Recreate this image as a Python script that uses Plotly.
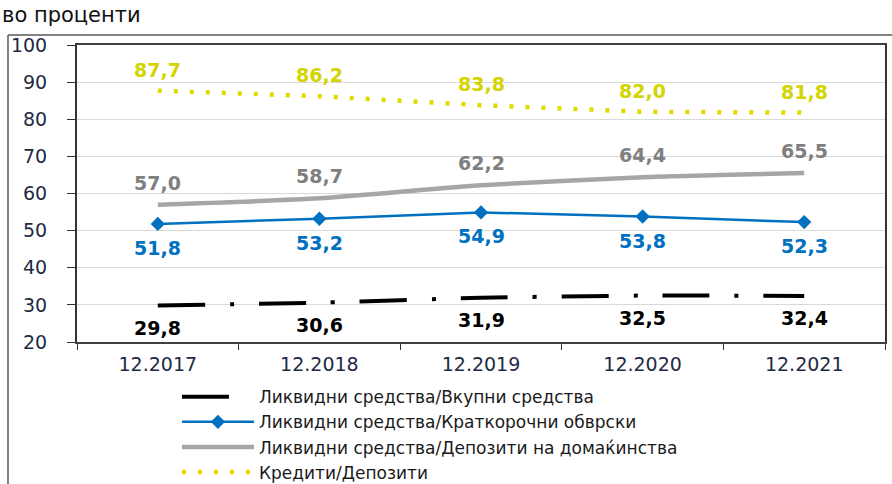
import plotly.graph_objects as go

categories = ["12.2017", "12.2018", "12.2019", "12.2020", "12.2021"]
liq_total = [29.8, 30.6, 31.9, 32.5, 32.4]
liq_short = [51.8, 53.2, 54.9, 53.8, 52.3]
liq_house = [57.0, 58.7, 62.2, 64.4, 65.5]
loans_dep = [87.7, 86.2, 83.8, 82.0, 81.8]
names = [
    "Ликвидни средства/Вкупни средства",
    "Ликвидни средства/Краткорочни обврски",
    "Ликвидни средства/Депозити на домаќинства",
    "Кредити/Депозити",
]
y_ticks = [20, 30, 40, 50, 60, 70, 80, 90, 100]

def fmt(v):
    return f"{v:.1f}".replace(".", ",")

fig = go.Figure()
fig.add_trace(go.Scatter(x=categories, y=liq_total, name=names[0], mode="lines",
                         line=dict(color="#000000", width=4, dash="47px,25px,4px,25px", shape="spline", smoothing=0.6)))
fig.add_trace(go.Scatter(x=categories, y=liq_short, name=names[1], mode="lines+markers",
                         line=dict(color="#0070C0", width=2.5),
                         marker=dict(symbol="diamond", size=11, color="#0070C0")))
fig.add_trace(go.Scatter(x=categories, y=liq_house, name=names[2], mode="lines",
                         line=dict(color="#A6A6A6", width=4.5, shape="spline", smoothing=0.6)))
fig.add_trace(go.Scatter(x=categories, y=loans_dep, name=names[3], mode="lines",
                         line=dict(color="#DCDC00", width=4.5, dash="4px,12px")))

annotations = []
series_lab = [
    (liq_total, "#000000", -22),
    (liq_short, "#0070C0", -24),
    (liq_house, "#7F7F7F", 22),
    (loans_dep, "#D4D400", 21),
]
for vals, col, ys in series_lab:
    for i, v in enumerate(vals):
        annotations.append(dict(x=i, y=v, xref="x", yref="y", text=fmt(v), showarrow=False,
                                yshift=ys, font=dict(family="DejaVu Sans", size=19, color=col, weight="bold")))

annotations.append(dict(x=-0.0953, y=1.053, xref="paper", yref="paper", xanchor="left", yanchor="bottom",
                        text="во проценти", showarrow=False,
                        font=dict(family="DejaVu Sans", size=21, color="#111111")))

shapes = [
    dict(type="line", xref="paper", yref="paper", x0=-0.0854, x1=1.01, y0=1.0337, y1=1.0337,
         line=dict(color="#595959", width=1.5)),
    dict(type="line", xref="paper", yref="paper", x0=-0.0854, x1=-0.0854, y0=1.0337, y1=-0.5,
         line=dict(color="#595959", width=1.5)),
]

fig.update_layout(
    width=892, height=484,
    margin=dict(l=77, r=7, t=45, b=142, autoexpand=False),
    paper_bgcolor="white", plot_bgcolor="white",
    showlegend=True,
    legend=dict(x=0.1237, y=-0.125, xanchor="left", yanchor="top", itemwidth=72,
                font=dict(family="DejaVu Sans", size=17, color="#1a1a1a"),
                tracegroupgap=0, bgcolor="rgba(0,0,0,0)"),
    annotations=annotations,
    shapes=shapes,
)
fig.update_xaxes(type="category", range=[-0.5, 4.5], tickson="boundaries", ticks="outside", ticklen=6,
                 tickcolor="#333333", tickangle=0, automargin=False, ticklabelstandoff=4,
                 showline=True, linecolor="#404040", linewidth=1.5, mirror=True, showgrid=False,
                 tickfont=dict(family="DejaVu Sans", size=19, color="#1f2a44"))
fig.update_yaxes(range=[20, 100], tickvals=y_ticks, ticks="outside", ticklen=8, tickcolor="#333333",
                 automargin=False, ticklabelstandoff=16,
                 showline=True, linecolor="#333333", linewidth=2, mirror=True,
                 showgrid=True, gridcolor="#D9D9D9", gridwidth=1, zeroline=False,
                 tickfont=dict(family="DejaVu Sans", size=19, color="#1f2a44"))

fig.write_html("out.html", config={"displayModeBar": False},
               post_script="document.body.style.margin='0';document.body.style.overflow='hidden';")
